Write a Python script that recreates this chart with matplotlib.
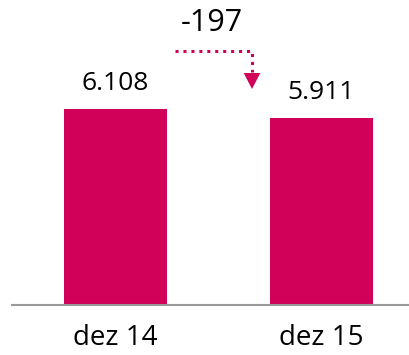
import numpy as np
import matplotlib
matplotlib.use('Agg')
import matplotlib.pyplot as plt

plt.rcParams['font.family'] = ['Open Sans', 'DejaVu Sans']

periods = ['dez 14', 'dez 15']
values = [6108, 5911]
value_labels = ['6.108', '5.911']
delta = values[1] - values[0]          # -197

bar_color = '#D10058'
y_floor = 1800
y_top = 8504

fig = plt.figure(figsize=(4.09, 3.55), dpi=100)
ax = fig.add_axes([12/409, 50/355, 397/409, 305/355])

x = np.arange(len(values))
ax.bar(x, values, width=0.5, color=bar_color, zorder=2)
ax.set_xlim(-0.502, 1.425)
ax.set_ylim(y_floor, y_top)

for xi, v, lab in zip(x, values, value_labels):
    ax.annotate(lab, (xi, v), xytext=(0, 13.5), textcoords='offset points',
                ha='center', va='baseline', fontsize=19, color='#000000')

# dotted elbow arrow showing the change
y_line = values[0] + 1280
x0, x1 = 0.289, 0.663
ax.plot([x0, x1, x1], [y_line, y_line, values[1] + 1000],
        linestyle=(0, (1, 1.6)), linewidth=2.2, color=bar_color, zorder=3)
ax.annotate('', xy=(x1, values[1] + 637), xytext=(x1, values[1] + 990),
            arrowprops=dict(arrowstyle='-|>,head_length=1.15,head_width=0.6',
                            color=bar_color, lw=0, shrinkA=0, shrinkB=0))
ax.text(0.47, y_line + 430, '%d' % delta, ha='center', va='baseline',
        fontsize=22, color='#000000')

for side in ['top', 'right', 'left']:
    ax.spines[side].set_visible(False)
ax.spines['bottom'].set_color('#9a9a9a')
ax.spines['bottom'].set_linewidth(1.5)
ax.set_yticks([])
ax.set_xticks(x)
ax.set_xticklabels(periods, fontsize=20, color='#000000')
ax.tick_params(axis='x', length=0, pad=14)

plt.savefig('out.png', dpi=100)
